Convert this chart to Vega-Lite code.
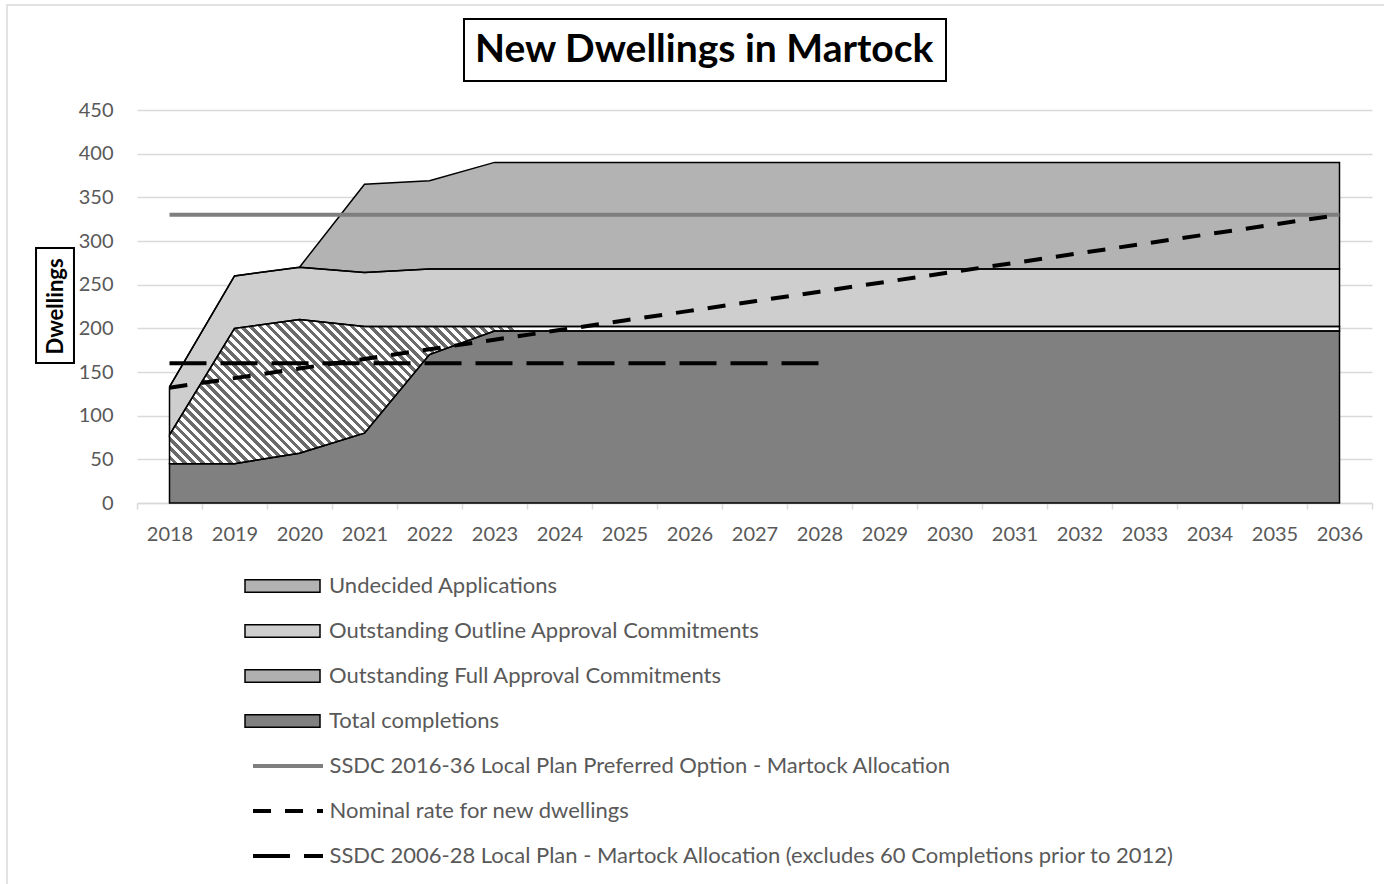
{
"$schema": "https://vega.github.io/schema/vega-lite/v6.json",
"width": 1235,
"height": 393,
"autosize": {"type": "none"},
"padding": {"left": 137, "top": 110, "right": 12, "bottom": 381},
"background": "white",
"config": {"font": "Lato", "view": {"stroke": null}, "legend": {"strokeWidth": 2}},
"datasets": {
"areas": [
{"year":2018,"series":"Total completions","v":45,"ord":1},
{"year":2019,"series":"Total completions","v":45,"ord":1},
{"year":2020,"series":"Total completions","v":57,"ord":1},
{"year":2021,"series":"Total completions","v":80,"ord":1},
{"year":2022,"series":"Total completions","v":170,"ord":1},
{"year":2023,"series":"Total completions","v":197,"ord":1},
{"year":2024,"series":"Total completions","v":197,"ord":1},
{"year":2025,"series":"Total completions","v":197,"ord":1},
{"year":2026,"series":"Total completions","v":197,"ord":1},
{"year":2027,"series":"Total completions","v":197,"ord":1},
{"year":2028,"series":"Total completions","v":197,"ord":1},
{"year":2029,"series":"Total completions","v":197,"ord":1},
{"year":2030,"series":"Total completions","v":197,"ord":1},
{"year":2031,"series":"Total completions","v":197,"ord":1},
{"year":2032,"series":"Total completions","v":197,"ord":1},
{"year":2033,"series":"Total completions","v":197,"ord":1},
{"year":2034,"series":"Total completions","v":197,"ord":1},
{"year":2035,"series":"Total completions","v":197,"ord":1},
{"year":2036,"series":"Total completions","v":197,"ord":1},
{"year":2018,"series":"Outstanding Full Approval Commitments","v":33,"ord":2},
{"year":2019,"series":"Outstanding Full Approval Commitments","v":155,"ord":2},
{"year":2020,"series":"Outstanding Full Approval Commitments","v":153,"ord":2},
{"year":2021,"series":"Outstanding Full Approval Commitments","v":122,"ord":2},
{"year":2022,"series":"Outstanding Full Approval Commitments","v":32,"ord":2},
{"year":2023,"series":"Outstanding Full Approval Commitments","v":5,"ord":2},
{"year":2024,"series":"Outstanding Full Approval Commitments","v":5,"ord":2},
{"year":2025,"series":"Outstanding Full Approval Commitments","v":5,"ord":2},
{"year":2026,"series":"Outstanding Full Approval Commitments","v":5,"ord":2},
{"year":2027,"series":"Outstanding Full Approval Commitments","v":5,"ord":2},
{"year":2028,"series":"Outstanding Full Approval Commitments","v":5,"ord":2},
{"year":2029,"series":"Outstanding Full Approval Commitments","v":5,"ord":2},
{"year":2030,"series":"Outstanding Full Approval Commitments","v":5,"ord":2},
{"year":2031,"series":"Outstanding Full Approval Commitments","v":5,"ord":2},
{"year":2032,"series":"Outstanding Full Approval Commitments","v":5,"ord":2},
{"year":2033,"series":"Outstanding Full Approval Commitments","v":5,"ord":2},
{"year":2034,"series":"Outstanding Full Approval Commitments","v":5,"ord":2},
{"year":2035,"series":"Outstanding Full Approval Commitments","v":5,"ord":2},
{"year":2036,"series":"Outstanding Full Approval Commitments","v":5,"ord":2},
{"year":2018,"series":"Outstanding Outline Approval Commitments","v":55,"ord":3},
{"year":2019,"series":"Outstanding Outline Approval Commitments","v":60,"ord":3},
{"year":2020,"series":"Outstanding Outline Approval Commitments","v":60,"ord":3},
{"year":2021,"series":"Outstanding Outline Approval Commitments","v":62,"ord":3},
{"year":2022,"series":"Outstanding Outline Approval Commitments","v":66,"ord":3},
{"year":2023,"series":"Outstanding Outline Approval Commitments","v":66,"ord":3},
{"year":2024,"series":"Outstanding Outline Approval Commitments","v":66,"ord":3},
{"year":2025,"series":"Outstanding Outline Approval Commitments","v":66,"ord":3},
{"year":2026,"series":"Outstanding Outline Approval Commitments","v":66,"ord":3},
{"year":2027,"series":"Outstanding Outline Approval Commitments","v":66,"ord":3},
{"year":2028,"series":"Outstanding Outline Approval Commitments","v":66,"ord":3},
{"year":2029,"series":"Outstanding Outline Approval Commitments","v":66,"ord":3},
{"year":2030,"series":"Outstanding Outline Approval Commitments","v":66,"ord":3},
{"year":2031,"series":"Outstanding Outline Approval Commitments","v":66,"ord":3},
{"year":2032,"series":"Outstanding Outline Approval Commitments","v":66,"ord":3},
{"year":2033,"series":"Outstanding Outline Approval Commitments","v":66,"ord":3},
{"year":2034,"series":"Outstanding Outline Approval Commitments","v":66,"ord":3},
{"year":2035,"series":"Outstanding Outline Approval Commitments","v":66,"ord":3},
{"year":2036,"series":"Outstanding Outline Approval Commitments","v":66,"ord":3},
{"year":2018,"series":"Undecided Applications","v":0,"ord":4},
{"year":2019,"series":"Undecided Applications","v":0,"ord":4},
{"year":2020,"series":"Undecided Applications","v":0,"ord":4},
{"year":2021,"series":"Undecided Applications","v":101,"ord":4},
{"year":2022,"series":"Undecided Applications","v":101,"ord":4},
{"year":2023,"series":"Undecided Applications","v":122,"ord":4},
{"year":2024,"series":"Undecided Applications","v":122,"ord":4},
{"year":2025,"series":"Undecided Applications","v":122,"ord":4},
{"year":2026,"series":"Undecided Applications","v":122,"ord":4},
{"year":2027,"series":"Undecided Applications","v":122,"ord":4},
{"year":2028,"series":"Undecided Applications","v":122,"ord":4},
{"year":2029,"series":"Undecided Applications","v":122,"ord":4},
{"year":2030,"series":"Undecided Applications","v":122,"ord":4},
{"year":2031,"series":"Undecided Applications","v":122,"ord":4},
{"year":2032,"series":"Undecided Applications","v":122,"ord":4},
{"year":2033,"series":"Undecided Applications","v":122,"ord":4},
{"year":2034,"series":"Undecided Applications","v":122,"ord":4},
{"year":2035,"series":"Undecided Applications","v":122,"ord":4},
{"year":2036,"series":"Undecided Applications","v":122,"ord":4}
],
"lines": [
{"year":2018,"series":"SSDC 2016-36 Local Plan Preferred Option - Martock Allocation","v":330},
{"year":2019,"series":"SSDC 2016-36 Local Plan Preferred Option - Martock Allocation","v":330},
{"year":2020,"series":"SSDC 2016-36 Local Plan Preferred Option - Martock Allocation","v":330},
{"year":2021,"series":"SSDC 2016-36 Local Plan Preferred Option - Martock Allocation","v":330},
{"year":2022,"series":"SSDC 2016-36 Local Plan Preferred Option - Martock Allocation","v":330},
{"year":2023,"series":"SSDC 2016-36 Local Plan Preferred Option - Martock Allocation","v":330},
{"year":2024,"series":"SSDC 2016-36 Local Plan Preferred Option - Martock Allocation","v":330},
{"year":2025,"series":"SSDC 2016-36 Local Plan Preferred Option - Martock Allocation","v":330},
{"year":2026,"series":"SSDC 2016-36 Local Plan Preferred Option - Martock Allocation","v":330},
{"year":2027,"series":"SSDC 2016-36 Local Plan Preferred Option - Martock Allocation","v":330},
{"year":2028,"series":"SSDC 2016-36 Local Plan Preferred Option - Martock Allocation","v":330},
{"year":2029,"series":"SSDC 2016-36 Local Plan Preferred Option - Martock Allocation","v":330},
{"year":2030,"series":"SSDC 2016-36 Local Plan Preferred Option - Martock Allocation","v":330},
{"year":2031,"series":"SSDC 2016-36 Local Plan Preferred Option - Martock Allocation","v":330},
{"year":2032,"series":"SSDC 2016-36 Local Plan Preferred Option - Martock Allocation","v":330},
{"year":2033,"series":"SSDC 2016-36 Local Plan Preferred Option - Martock Allocation","v":330},
{"year":2034,"series":"SSDC 2016-36 Local Plan Preferred Option - Martock Allocation","v":330},
{"year":2035,"series":"SSDC 2016-36 Local Plan Preferred Option - Martock Allocation","v":330},
{"year":2036,"series":"SSDC 2016-36 Local Plan Preferred Option - Martock Allocation","v":330},
{"year":2018,"series":"Nominal rate for new dwellings","v":132},
{"year":2019,"series":"Nominal rate for new dwellings","v":143},
{"year":2020,"series":"Nominal rate for new dwellings","v":154},
{"year":2021,"series":"Nominal rate for new dwellings","v":165},
{"year":2022,"series":"Nominal rate for new dwellings","v":176},
{"year":2023,"series":"Nominal rate for new dwellings","v":187},
{"year":2024,"series":"Nominal rate for new dwellings","v":198},
{"year":2025,"series":"Nominal rate for new dwellings","v":209},
{"year":2026,"series":"Nominal rate for new dwellings","v":220},
{"year":2027,"series":"Nominal rate for new dwellings","v":231},
{"year":2028,"series":"Nominal rate for new dwellings","v":242},
{"year":2029,"series":"Nominal rate for new dwellings","v":253},
{"year":2030,"series":"Nominal rate for new dwellings","v":264},
{"year":2031,"series":"Nominal rate for new dwellings","v":275},
{"year":2032,"series":"Nominal rate for new dwellings","v":286},
{"year":2033,"series":"Nominal rate for new dwellings","v":297},
{"year":2034,"series":"Nominal rate for new dwellings","v":308},
{"year":2035,"series":"Nominal rate for new dwellings","v":319},
{"year":2036,"series":"Nominal rate for new dwellings","v":330},
{"year":2018,"series":"SSDC 2006-28 Local Plan - Martock Allocation (excludes 60 Completions prior to 2012)","v":160},
{"year":2019,"series":"SSDC 2006-28 Local Plan - Martock Allocation (excludes 60 Completions prior to 2012)","v":160},
{"year":2020,"series":"SSDC 2006-28 Local Plan - Martock Allocation (excludes 60 Completions prior to 2012)","v":160},
{"year":2021,"series":"SSDC 2006-28 Local Plan - Martock Allocation (excludes 60 Completions prior to 2012)","v":160},
{"year":2022,"series":"SSDC 2006-28 Local Plan - Martock Allocation (excludes 60 Completions prior to 2012)","v":160},
{"year":2023,"series":"SSDC 2006-28 Local Plan - Martock Allocation (excludes 60 Completions prior to 2012)","v":160},
{"year":2024,"series":"SSDC 2006-28 Local Plan - Martock Allocation (excludes 60 Completions prior to 2012)","v":160},
{"year":2025,"series":"SSDC 2006-28 Local Plan - Martock Allocation (excludes 60 Completions prior to 2012)","v":160},
{"year":2026,"series":"SSDC 2006-28 Local Plan - Martock Allocation (excludes 60 Completions prior to 2012)","v":160},
{"year":2027,"series":"SSDC 2006-28 Local Plan - Martock Allocation (excludes 60 Completions prior to 2012)","v":160},
{"year":2028,"series":"SSDC 2006-28 Local Plan - Martock Allocation (excludes 60 Completions prior to 2012)","v":160}
]
},
"layer": [
{
"data": {"name": "areas"},
"transform": [{"stack": "v", "groupby": ["year"], "sort": [{"field": "ord", "order": "ascending"}], "as": ["lo", "hi"]}],
"mark": {"type": "area"},
"encoding": {
"x": {"field": "year", "type": "quantitative", "scale": {"domain": [2017.5, 2036.5], "nice": false, "zero": false},
"axis": {"title": null, "values": [2017.5,2018.5,2019.5,2020.5,2021.5,2022.5,2023.5,2024.5,2025.5,2026.5,2027.5,2028.5,2029.5,2030.5,2031.5,2032.5,2033.5,2034.5,2035.5,2036.5],
"labelExpr": "datum.value < 2036 ? format(datum.value + 0.5, 'd') : ''", "labelOffset": 32.5, "labelFlush": false, "labelOverlap": false, "labelBound": false,
"labelFontSize": 20, "labelColor": "#595959", "labelPadding": 15, "tickSize": 6, "tickColor": "#d9d9d9", "tickWidth": 1.5,
"domainColor": "#d9d9d9", "domainWidth": 1.5, "grid": false}},
"y": {"field": "hi", "type": "quantitative", "scale": {"domain": [0, 450], "nice": false, "zero": true},
"axis": {"title": "Dwellings", "titleFontSize": 22, "titleFontWeight": "bold", "titleColor": "#000000", "titleX": -82, "titleY": 196, "titleBaseline": "middle", "titleAngle": 270,
"values": [0,50,100,150,200,250,300,350,400,450], "grid": true, "gridColor": "#d9d9d9", "gridWidth": 1.5,
"domain": false, "ticks": false, "labelFontSize": 20, "labelColor": "#595959", "labelPadding": 24}},
"y2": {"field": "lo"},
"fill": {"field": "series", "type": "nominal",
"scale": {"domain": ["Undecided Applications", "Outstanding Outline Approval Commitments", "Outstanding Full Approval Commitments", "Total completions"],
"range": ["#b3b3b3", "#cecece", "#b0b0b0", "#808080"]},
"legend": {"orient": "none", "legendX": 108, "legendY": 462.5, "title": null, "direction": "vertical",
"symbolType": "M-3,-0.5H3V0.5H-3Z", "symbolSize": 625, "symbolStrokeColor": "black", "symbolStrokeWidth": 1.5, "symbolOffset": 24,
"labelOffset": 33, "labelFontSize": 22, "labelColor": "#595959", "labelLimit": 1000, "rowPadding": 20, "padding": 0}}
}
},
{
"data": {"name": "areas"},
"transform": [{"stack": "v", "groupby": ["year"], "sort": [{"field": "ord", "order": "ascending"}], "as": ["lo", "hi"]}, {"filter": "datum.ord == 2"}],
"mark": {"type": "area", "color": {"gradient": "linear", "x1": 0, "y1": 1, "x2": 1.1064, "y2": 0.8637, "stops": [
{"offset":0,"color":"#ffffff"},
{"offset":0.0035,"color":"#ffffff"},{"offset":0.0035,"color":"#6b6b6b"},{"offset":0.007,"color":"#6b6b6b"},{"offset":0.007,"color":"#ffffff"},
{"offset":0.0105,"color":"#ffffff"},{"offset":0.0105,"color":"#6b6b6b"},{"offset":0.014,"color":"#6b6b6b"},{"offset":0.014,"color":"#ffffff"},
{"offset":0.0175,"color":"#ffffff"},{"offset":0.0175,"color":"#6b6b6b"},{"offset":0.021,"color":"#6b6b6b"},{"offset":0.021,"color":"#ffffff"},
{"offset":0.0245,"color":"#ffffff"},{"offset":0.0245,"color":"#6b6b6b"},{"offset":0.028,"color":"#6b6b6b"},{"offset":0.028,"color":"#ffffff"},
{"offset":0.0315,"color":"#ffffff"},{"offset":0.0315,"color":"#6b6b6b"},{"offset":0.035,"color":"#6b6b6b"},{"offset":0.035,"color":"#ffffff"},
{"offset":0.0385,"color":"#ffffff"},{"offset":0.0385,"color":"#6b6b6b"},{"offset":0.042,"color":"#6b6b6b"},{"offset":0.042,"color":"#ffffff"},
{"offset":0.0455,"color":"#ffffff"},{"offset":0.0455,"color":"#6b6b6b"},{"offset":0.049,"color":"#6b6b6b"},{"offset":0.049,"color":"#ffffff"},
{"offset":0.0525,"color":"#ffffff"},{"offset":0.0525,"color":"#6b6b6b"},{"offset":0.056,"color":"#6b6b6b"},{"offset":0.056,"color":"#ffffff"},
{"offset":0.0595,"color":"#ffffff"},{"offset":0.0595,"color":"#6b6b6b"},{"offset":0.063,"color":"#6b6b6b"},{"offset":0.063,"color":"#ffffff"},
{"offset":0.0665,"color":"#ffffff"},{"offset":0.0665,"color":"#6b6b6b"},{"offset":0.07,"color":"#6b6b6b"},{"offset":0.07,"color":"#ffffff"},
{"offset":0.0735,"color":"#ffffff"},{"offset":0.0735,"color":"#6b6b6b"},{"offset":0.077,"color":"#6b6b6b"},{"offset":0.077,"color":"#ffffff"},
{"offset":0.0805,"color":"#ffffff"},{"offset":0.0805,"color":"#6b6b6b"},{"offset":0.084,"color":"#6b6b6b"},{"offset":0.084,"color":"#ffffff"},
{"offset":0.0875,"color":"#ffffff"},{"offset":0.0875,"color":"#6b6b6b"},{"offset":0.091,"color":"#6b6b6b"},{"offset":0.091,"color":"#ffffff"},
{"offset":0.0945,"color":"#ffffff"},{"offset":0.0945,"color":"#6b6b6b"},{"offset":0.098,"color":"#6b6b6b"},{"offset":0.098,"color":"#ffffff"},
{"offset":0.1015,"color":"#ffffff"},{"offset":0.1015,"color":"#6b6b6b"},{"offset":0.105,"color":"#6b6b6b"},{"offset":0.105,"color":"#ffffff"},
{"offset":0.1085,"color":"#ffffff"},{"offset":0.1085,"color":"#6b6b6b"},{"offset":0.112,"color":"#6b6b6b"},{"offset":0.112,"color":"#ffffff"},
{"offset":0.1155,"color":"#ffffff"},{"offset":0.1155,"color":"#6b6b6b"},{"offset":0.119,"color":"#6b6b6b"},{"offset":0.119,"color":"#ffffff"},
{"offset":0.1225,"color":"#ffffff"},{"offset":0.1225,"color":"#6b6b6b"},{"offset":0.126,"color":"#6b6b6b"},{"offset":0.126,"color":"#ffffff"},
{"offset":0.1295,"color":"#ffffff"},{"offset":0.1295,"color":"#6b6b6b"},{"offset":0.133,"color":"#6b6b6b"},{"offset":0.133,"color":"#ffffff"},
{"offset":0.1365,"color":"#ffffff"},{"offset":0.1365,"color":"#6b6b6b"},{"offset":0.14,"color":"#6b6b6b"},{"offset":0.14,"color":"#ffffff"},
{"offset":0.1435,"color":"#ffffff"},{"offset":0.1435,"color":"#6b6b6b"},{"offset":0.147,"color":"#6b6b6b"},{"offset":0.147,"color":"#ffffff"},
{"offset":0.1505,"color":"#ffffff"},{"offset":0.1505,"color":"#6b6b6b"},{"offset":0.154,"color":"#6b6b6b"},{"offset":0.154,"color":"#ffffff"},
{"offset":0.1575,"color":"#ffffff"},{"offset":0.1575,"color":"#6b6b6b"},{"offset":0.161,"color":"#6b6b6b"},{"offset":0.161,"color":"#ffffff"},
{"offset":0.1645,"color":"#ffffff"},{"offset":0.1645,"color":"#6b6b6b"},{"offset":0.168,"color":"#6b6b6b"},{"offset":0.168,"color":"#ffffff"},
{"offset":0.1715,"color":"#ffffff"},{"offset":0.1715,"color":"#6b6b6b"},{"offset":0.175,"color":"#6b6b6b"},{"offset":0.175,"color":"#ffffff"},
{"offset":0.1785,"color":"#ffffff"},{"offset":0.1785,"color":"#6b6b6b"},{"offset":0.182,"color":"#6b6b6b"},{"offset":0.182,"color":"#ffffff"},
{"offset":0.1855,"color":"#ffffff"},{"offset":0.1855,"color":"#6b6b6b"},{"offset":0.189,"color":"#6b6b6b"},{"offset":0.189,"color":"#ffffff"},
{"offset":0.1925,"color":"#ffffff"},{"offset":0.1925,"color":"#6b6b6b"},{"offset":0.196,"color":"#6b6b6b"},{"offset":0.196,"color":"#ffffff"},
{"offset":0.1995,"color":"#ffffff"},{"offset":0.1995,"color":"#6b6b6b"},{"offset":0.203,"color":"#6b6b6b"},{"offset":0.203,"color":"#ffffff"},
{"offset":0.2065,"color":"#ffffff"},{"offset":0.2065,"color":"#6b6b6b"},{"offset":0.21,"color":"#6b6b6b"},{"offset":0.21,"color":"#ffffff"},
{"offset":0.2135,"color":"#ffffff"},{"offset":0.2135,"color":"#6b6b6b"},{"offset":0.217,"color":"#6b6b6b"},{"offset":0.217,"color":"#ffffff"},
{"offset":0.2205,"color":"#ffffff"},{"offset":0.2205,"color":"#6b6b6b"},{"offset":0.224,"color":"#6b6b6b"},{"offset":0.224,"color":"#ffffff"},
{"offset":0.2275,"color":"#ffffff"},{"offset":0.2275,"color":"#6b6b6b"},{"offset":0.231,"color":"#6b6b6b"},{"offset":0.231,"color":"#ffffff"},
{"offset":0.2345,"color":"#ffffff"},{"offset":0.2345,"color":"#6b6b6b"},{"offset":0.238,"color":"#6b6b6b"},{"offset":0.238,"color":"#ffffff"},
{"offset":0.2415,"color":"#ffffff"},{"offset":0.2415,"color":"#6b6b6b"},{"offset":0.245,"color":"#6b6b6b"},{"offset":0.245,"color":"#ffffff"},
{"offset":0.2485,"color":"#ffffff"},{"offset":0.2485,"color":"#6b6b6b"},{"offset":0.252,"color":"#6b6b6b"},{"offset":0.252,"color":"#ffffff"},
{"offset":0.2555,"color":"#ffffff"},{"offset":0.2555,"color":"#6b6b6b"},{"offset":0.259,"color":"#6b6b6b"},{"offset":0.259,"color":"#ffffff"},
{"offset":0.2625,"color":"#ffffff"},{"offset":0.2625,"color":"#6b6b6b"},{"offset":0.266,"color":"#6b6b6b"},{"offset":0.266,"color":"#ffffff"},
{"offset":0.2695,"color":"#ffffff"},{"offset":0.2695,"color":"#6b6b6b"},{"offset":0.273,"color":"#6b6b6b"},{"offset":0.273,"color":"#ffffff"},
{"offset":0.2765,"color":"#ffffff"},{"offset":0.2765,"color":"#6b6b6b"},{"offset":0.28,"color":"#6b6b6b"},{"offset":0.28,"color":"#ffffff"},
{"offset":0.2835,"color":"#ffffff"},{"offset":0.2835,"color":"#6b6b6b"},{"offset":0.287,"color":"#6b6b6b"},{"offset":0.287,"color":"#ffffff"},
{"offset":0.2905,"color":"#ffffff"},{"offset":0.2905,"color":"#6b6b6b"},{"offset":0.294,"color":"#6b6b6b"},{"offset":0.294,"color":"#ffffff"},
{"offset":0.2975,"color":"#ffffff"},{"offset":0.2975,"color":"#6b6b6b"},{"offset":0.301,"color":"#6b6b6b"},{"offset":0.301,"color":"#ffffff"},
{"offset":0.3045,"color":"#ffffff"},{"offset":0.3045,"color":"#6b6b6b"},{"offset":0.308,"color":"#6b6b6b"},{"offset":0.308,"color":"#ffffff"},
{"offset":0.3115,"color":"#ffffff"},{"offset":0.3115,"color":"#6b6b6b"},{"offset":0.315,"color":"#6b6b6b"},{"offset":0.315,"color":"#ffffff"},
{"offset":0.3185,"color":"#ffffff"},{"offset":0.3185,"color":"#6b6b6b"},{"offset":0.322,"color":"#6b6b6b"},{"offset":0.322,"color":"#ffffff"},
{"offset":0.3255,"color":"#ffffff"},{"offset":0.3255,"color":"#6b6b6b"},{"offset":0.329,"color":"#6b6b6b"},{"offset":0.329,"color":"#ffffff"},
{"offset":0.3325,"color":"#ffffff"},{"offset":0.3325,"color":"#6b6b6b"},{"offset":0.336,"color":"#6b6b6b"},{"offset":0.336,"color":"#ffffff"},
{"offset":0.3395,"color":"#ffffff"},{"offset":0.3395,"color":"#6b6b6b"},{"offset":0.343,"color":"#6b6b6b"},{"offset":0.343,"color":"#ffffff"},
{"offset":0.3465,"color":"#ffffff"},{"offset":0.3465,"color":"#6b6b6b"},{"offset":0.35,"color":"#6b6b6b"},{"offset":0.35,"color":"#ffffff"},
{"offset":0.3535,"color":"#ffffff"},{"offset":0.3535,"color":"#6b6b6b"},{"offset":0.357,"color":"#6b6b6b"},{"offset":0.357,"color":"#ffffff"},
{"offset":0.3605,"color":"#ffffff"},{"offset":0.3605,"color":"#6b6b6b"},{"offset":0.364,"color":"#6b6b6b"},{"offset":0.364,"color":"#ffffff"},
{"offset":1,"color":"#ffffff"}
]}},
"encoding": {
"x": {"field": "year", "type": "quantitative"},
"y": {"field": "hi", "type": "quantitative"},
"y2": {"field": "lo"}
}
},
{
"data": {"name": "areas"},
"transform": [{"stack": "v", "groupby": ["year"], "sort": [{"field": "ord", "order": "ascending"}], "as": ["lo", "hi"]}],
"mark": {"type": "area", "fillOpacity": 0, "stroke": "black", "strokeWidth": 1.5},
"encoding": {
"x": {"field": "year", "type": "quantitative"},
"y": {"field": "hi", "type": "quantitative"},
"y2": {"field": "lo"},
"detail": {"field": "series", "type": "nominal"}
}
},
{
"data": {"name": "lines"},
"mark": {"type": "line", "strokeWidth": 4},
"encoding": {
"x": {"field": "year", "type": "quantitative"},
"y": {"field": "v", "type": "quantitative"},
"stroke": {"field": "series", "type": "nominal",
"scale": {"domain": ["SSDC 2016-36 Local Plan Preferred Option - Martock Allocation", "Nominal rate for new dwellings", "SSDC 2006-28 Local Plan - Martock Allocation (excludes 60 Completions prior to 2012)"],
"range": ["#7f7f7f", "#000000", "#000000"]},
"legend": {"orient": "none", "legendX": 108, "legendY": 641.5, "title": null, "direction": "vertical",
"symbolType": "M-2.8,0H2.8", "symbolSize": 625, "symbolStrokeWidth": 4, "symbolOffset": 28.5,
"labelOffset": 27, "labelFontSize": 22, "labelColor": "#595959", "labelLimit": 1000, "rowPadding": 19, "padding": 0}},
"strokeDash": {"field": "series", "type": "nominal",
"scale": {"domain": ["SSDC 2016-36 Local Plan Preferred Option - Martock Allocation", "Nominal rate for new dwellings", "SSDC 2006-28 Local Plan - Martock Allocation (excludes 60 Completions prior to 2012)"],
"range": [[1, 0], [18, 14], [37, 14]]},
"legend": {"orient": "none", "legendX": 108, "legendY": 641.5, "title": null, "direction": "vertical",
"symbolType": "M-2.8,0H2.8", "symbolSize": 625, "symbolStrokeWidth": 4, "symbolOffset": 28.5,
"labelOffset": 27, "labelFontSize": 22, "labelColor": "#595959", "labelLimit": 1000, "rowPadding": 19, "padding": 0}}
}
},
{
"data": {"values": [{"t": "New Dwellings in Martock"}]},
"mark": {"type": "point", "opacity": 0},
"encoding": {
"shape": {"field": "t", "type": "nominal",
"legend": {"orient": "none", "legendX": 327, "legendY": -91, "title": null, "symbolSize": 0, "symbolOpacity": 0, "symbolStrokeWidth": 0,
"labelOffset": -39, "labelFontSize": 39, "labelFontWeight": "bold", "labelColor": "#000000", "labelLimit": 1000,
"padding": 11, "strokeColor": "#000000", "fillColor": "#ffffff"}}
}
},
{
"data": {"values": [{"d": "box"}]},
"mark": {"type": "point", "opacity": 0},
"encoding": {
"size": {"field": "d", "type": "ordinal", "scale": {"range": [13225, 13225]},
"legend": {"orient": "none", "legendX": -140.5, "legendY": 137, "title": null,
"symbolType": "M-0.33,-1H0.33V1H-0.33Z", "symbolSize": 13225, "symbolStrokeColor": "#000000", "symbolStrokeWidth": 2,
"symbolFillColor": "transparent", "symbolOpacity": 1, "symbolOffset": 0,
"labelExpr": "''", "labelFontSize": 1, "padding": 0}}
}
},
{
"data": {"values": [{"b": "frame"}]},
"mark": {"type": "point", "opacity": 0},
"encoding": {
"strokeWidth": {"field": "b", "type": "ordinal", "scale": {"range": [1.5, 1.5]},
"legend": {"orient": "none", "legendX": -131, "legendY": -358, "title": null,
"symbolType": "M-1,-0.64H1V0.64H-1Z", "symbolSize": 1960000, "symbolStrokeColor": "#d9d9d9", "symbolStrokeWidth": 1.5,
"symbolFillColor": "transparent", "symbolOpacity": 1, "symbolOffset": 0,
"labelExpr": "''", "labelFontSize": 1, "padding": 0}}
}
}
]
}
